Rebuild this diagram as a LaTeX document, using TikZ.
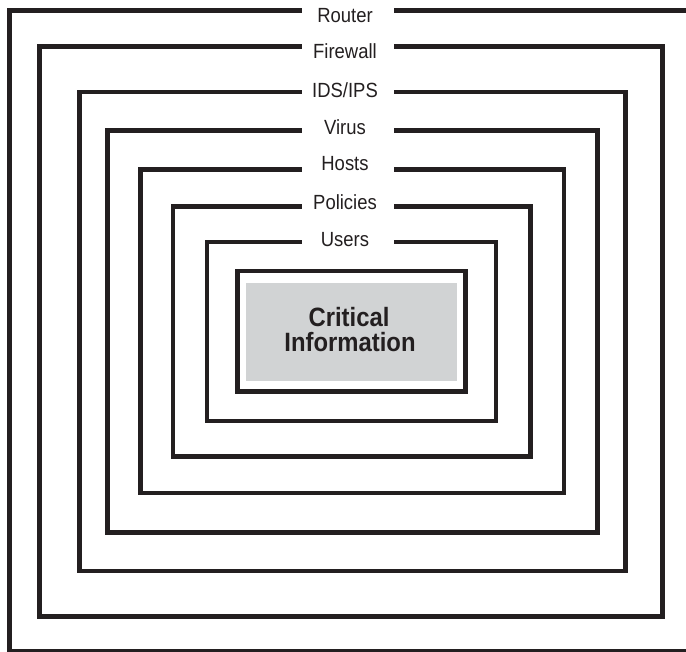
\documentclass[tikz,border=0pt]{standalone}
\usepackage{fontspec}
\setmainfont{Liberation Sans}[FakeStretch=0.9]
\definecolor{ink}{RGB}{35,31,32}
\definecolor{infogray}{RGB}{209,211,212}
\begin{document}
\begin{tikzpicture}[x=1pt,y=-1pt,
  layer/.style={draw=ink,line width=4.5pt},
  lbl/.style={font=\fontsize{20.5}{24}\selectfont, text=ink, anchor=base, inner sep=0pt},
  core/.style={font=\bfseries\fontsize{26.5}{26}\selectfont, text=ink, inner sep=0pt, anchor=base}]
\useasboundingbox (0,0) rectangle (686,652);
\clip (0,0) rectangle (686,652);
\fill[white] (0,0) rectangle (686,652);
\foreach \n/\l/\t/\r/\b/\txt/\base in {
  router/9.7/10.3/700/651.5/Router/22.5,
  firewall/39.3/46.5/662.7/616.5/Firewall/58.5,
  ids/79.7/92/625.3/571/IDS\slash IPS/98,
  virus/107.7/130.3/597.3/532.7/Virus/134.5,
  hosts/140.5/169.7/564/493/Hosts/171,
  policies/173.2/206.3/530.7/456.5/Policies/209.5,
  users/207.2/242/496/421/Users/246.5}{
  \draw[layer] (394,\t) -- (\r,\t) -- (\r,\b) -- (\l,\b) -- (\l,\t) -- (301.5,\t);
  \node[lbl] (\n) at (345,\base) {\txt};
}
\draw[layer] (237.5,270.8) rectangle (465.3,391.7);
\fill[infogray] (245.7,282.7) rectangle (456.7,381);
\node[core] (critical) at (349,327) {Critical};
\node[core] (information) at (350,352) {Information};
\end{tikzpicture}
\end{document}
